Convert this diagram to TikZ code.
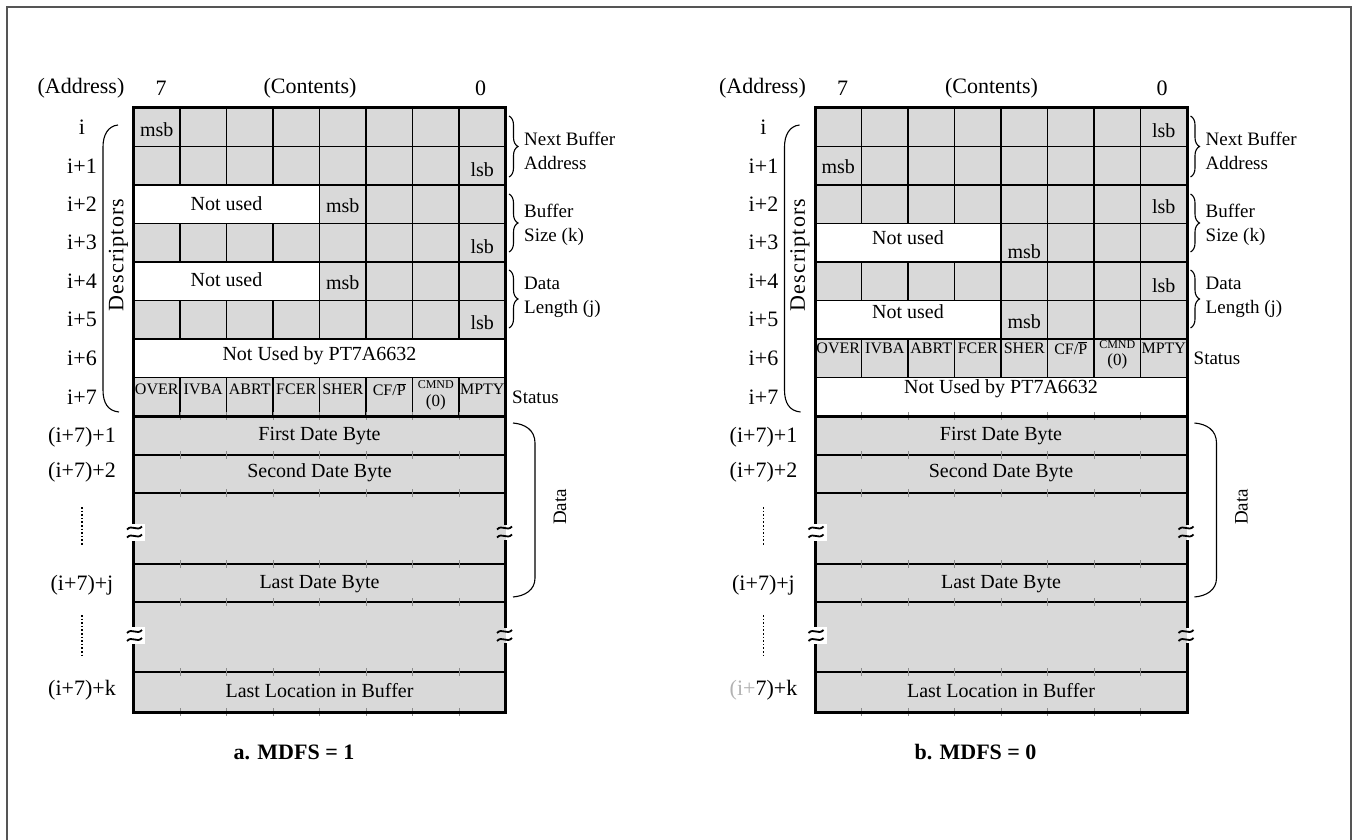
\documentclass[tikz,border=0pt]{standalone}
\usepackage{fontspec}
\setmainfont{Liberation Serif}
\usetikzlibrary{decorations.pathreplacing}
\definecolor{cellgray}{RGB}{217,217,217}
\definecolor{framegray}{RGB}{85,85,85}
\tikzset{
  lbl/.style={font=\fontsize{22}{24}\selectfont,inner sep=0pt},
  txt/.style={font=\fontsize{20}{22}\selectfont,inner sep=0pt},
  stat/.style={font=\fontsize{16}{18}\selectfont,inner sep=0pt},
  tinytxt/.style={font=\fontsize{12}{13}\selectfont,inner sep=0pt},
  side/.style={font=\fontsize{19}{24}\selectfont,inner sep=0pt,align=left,anchor=west},
  gridln/.style={line width=1.4pt},
  bord/.style={line width=3pt,line cap=rect},
  brc/.style={decorate,decoration={brace,amplitude=9pt},line width=1.1pt},
  bracket/.style={line width=1.1pt},
  tickln/.style={line width=0.7pt,black!45},
  dotln/.style={dotted,line width=1.6pt},
  brkln/.style={line width=1.8pt},
  capt/.style={font=\bfseries\fontsize{22}{24}\selectfont,inner sep=0pt},
}
% tilde pair break mark
\newcommand\BrkMark[3]{%
  \draw[brkln] (#1,#3+1.5) .. controls (#1+5,#3-4) and (#2-5,#3+4) .. (#2,#3-1.5);
  \draw[brkln] (#1,#3+9.5) .. controls (#1+5,#3+4) and (#2-5,#3+12) .. (#2,#3+6.5);}
% vertical grid lines between columns k..7
\newcommand\VLines[3]{%
  \foreach \k in {#3,...,7} \draw[gridln] ({133.5+46.5*\k},#1) -- ({133.5+46.5*\k},#2);}
% status row
\newcommand\StatRow[5]{%
  \node[stat] (#1a) at (156.75,#2+#3) {OVER};
  \node[stat] (#1b) at (203.25,#2+#3) {IVBA};
  \node[stat] (#1c) at (249.75,#2+#3) {ABRT};
  \node[stat] (#1d) at (296.25,#2+#3) {FCER};
  \node[stat] (#1e) at (342.75,#2+#3) {SHER};
  \node[stat] (#1f) at (389.25,#2+#3) {CF/$\overline{\mbox{P}}$};
  \node[tinytxt] (#1g) at (435.75,#2+#4) {CMND};
  \node[stat,font=\fontsize{17}{18}\selectfont] (#1h) at (435.75,#2+#5) {(0)};
  \node[stat] (#1i) at (482.25,#2+#3) {MPTY};}
% shared parts of a panel
\newcommand\Common[2]{%
  \foreach \y in {146.5,185,223.5,262,300.5,339,377.5,455,493,564,602,672}
    \draw[gridln] (133.5,\y) -- (505.5,\y);
  \foreach \y in {416,455,493,564,602,672,712}
    \foreach \k in {1,...,7}
      \draw[tickln] ({133.5+46.5*\k},\y-4) -- ({133.5+46.5*\k},\y+4);
  % thick borders
  \draw[bord] (133.5,108) -- (505.5,108);
  \draw[bord] (133.5,416) -- (505.5,416);
  \draw[bord] (133.5,712) -- (505.5,712);
  \draw[bord] (133.5,108) -- (133.5,523);
  \draw[bord] (133.5,541) -- (133.5,626);
  \draw[bord] (133.5,644) -- (133.5,712);
  \draw[bord] (505.5,108) -- (505.5,523);
  \draw[bord] (505.5,541) -- (505.5,626);
  \draw[bord] (505.5,644) -- (505.5,712);
  % break marks
  \fill[white] (126,523.5) rectangle (145,540.5);
  \fill[white] (126,626.5) rectangle (145,643.5);
  \BrkMark{127}{142}{528}
  \BrkMark{127}{142}{631.5}
  \BrkMark{497}{512}{528}
  \BrkMark{497}{512}{631.5}
  % data texts
  \node[txt] (#1d1) at (319.5,436.5) {First Date Byte};
  \node[txt] (#1d2) at (319.5,473) {Second Date Byte};
  \node[txt] (#1d3) at (319.5,584) {Last Date Byte};
  \node[txt] (#1d4) at (319.5,691) {Last Location in Buffer};
  % header
  \node[lbl] (#1h1) at (81,88) {(Address)};
  \node[lbl] (#1h2) at (161,88) {7};
  \node[lbl] (#1h3) at (310,88) {(Contents)};
  \node[lbl] (#1h4) at (480.5,88) {0};
  % row labels
  \node[lbl] (#1r0) at (82,127.25) {i};
  \node[lbl] (#1r1) at (82,165.75) {i+1};
  \node[lbl] (#1r2) at (82,204.25) {i+2};
  \node[lbl] (#1r3) at (82,242.75) {i+3};
  \node[lbl] (#1r4) at (82,281.25) {i+4};
  \node[lbl] (#1r5) at (82,319.75) {i+5};
  \node[lbl] (#1r6) at (82,358.25) {i+6};
  \node[lbl] (#1r7) at (82,396.75) {i+7};
  \node[lbl] (#1r8) at (82,437) {(i+7)+1};
  \node[lbl] (#1r9) at (82,472) {(i+7)+2};
  \node[lbl] (#1rj) at (82,585) {(i+7)+j};
  \draw[dotln] (82,507) -- (82,545);
  \draw[dotln] (82,615) -- (82,655);
  % descriptors bracket
  \draw[bracket] (118,125) .. controls (108,126) and (103,135) .. (103,147)
     -- (103,390) .. controls (103,403) and (108,411) .. (119,412);
  \node[lbl,rotate=90] (#1desc) at (118.5,255) {\addfontfeature{LetterSpace=5}Descriptors};
  % right braces
  \draw[brc] (509,116) -- (509,177);
  \node[side] (#1nb) at (524,151) {Next Buffer\\Address};
  \draw[brc] (509,194) -- (509,252);
  \node[side] (#1bs) at (524,225) {Buffer\\Size (k)};
  \draw[brc] (509,270) -- (509,328);
  \node[side] (#1dl) at (524,297) {Data\\Length (j)};
  % data bracket
  \draw[bracket] (513,423) .. controls (525,424) and (535,430) .. (535,443)
     -- (535,578) .. controls (535,590) and (525,596) .. (513,597);
  \node[side,anchor=center,rotate=90] (#1data) at (560,507) {Data};
  \node[capt] (#1cap) at (294,752) {#2};
}
\begin{document}
\begin{tikzpicture}[x=1pt,y=-1pt]
\useasboundingbox (0,0) rectangle (1352,840);
\draw[framegray,line width=1.7pt] (7,840) -- (7,7) -- (1351,7) -- (1351,840);

% ---------------- panel a ----------------
\begin{scope}
  \fill[cellgray] (133.5,108) rectangle (505.5,712);
  \fill[white] (133.5,185) rectangle (319.5,223.5);
  \fill[white] (133.5,262) rectangle (319.5,300.5);
  \fill[white] (133.5,339) rectangle (505.5,377.5);
  \VLines{108}{185}{1}
  \VLines{185}{223.5}{4}
  \VLines{223.5}{262}{1}
  \VLines{262}{300.5}{4}
  \VLines{300.5}{339}{1}
  \VLines{377.5}{416}{1}
  \Common{A}{a. MDFS = 1}
  \node[txt] (Am0) at (156.75,129.5) {msb};
  \node[txt] (Al1) at (482.25,169.5) {lsb};
  \node[txt] (An2) at (226.5,204) {Not used};
  \node[txt] (Am2) at (342.75,205.5) {msb};
  \node[txt] (Al3) at (482.25,246.5) {lsb};
  \node[txt] (An4) at (226.5,280) {Not used};
  \node[txt] (Am4) at (342.75,283) {msb};
  \node[txt] (Al5) at (482.25,322.5) {lsb};
  \node[txt] (An6) at (319.5,356) {Not Used by PT7A6632};
  \StatRow{As}{377.5}{12}{7}{25}
  \node[side] (Ast) at (512,397) {Status};
  \node[lbl] (Ark) at (82,690) {(i+7)+k};
\end{scope}

% ---------------- panel b ----------------
\begin{scope}[xshift=681.5pt]
  \fill[cellgray] (133.5,108) rectangle (505.5,712);
  \fill[white] (133.5,223.5) rectangle (319.5,262);
  \fill[white] (133.5,300.5) rectangle (319.5,339);
  \fill[white] (133.5,377.5) rectangle (505.5,416);
  \VLines{108}{223.5}{1}
  \VLines{223.5}{262}{4}
  \VLines{262}{300.5}{1}
  \VLines{300.5}{339}{4}
  \VLines{339}{377.5}{1}
  \Common{B}{b. MDFS = 0}
  \node[txt] (Bl0) at (482.25,130.5) {lsb};
  \node[txt] (Bm1) at (156.75,167) {msb};
  \node[txt] (Bl2) at (482.25,207) {lsb};
  \node[txt] (Bn3) at (226.5,237.5) {Not used};
  \node[txt] (Bm3) at (342.75,251.5) {msb};
  \node[txt] (Bl4) at (482.25,286) {lsb};
  \node[txt] (Bn5) at (226.5,312) {Not used};
  \node[txt] (Bm5) at (342.75,322) {msb};
  \StatRow{Bs}{339}{9}{6}{22}
  \node[txt] (Bn7) at (319.5,389) {Not Used by PT7A6632};
  \node[side] (Bst) at (512,358) {Status};
  \node[lbl] (Brk) at (82,690) {\textcolor{black!30}{(i+}7)+k};
\end{scope}
\end{tikzpicture}
\end{document}
